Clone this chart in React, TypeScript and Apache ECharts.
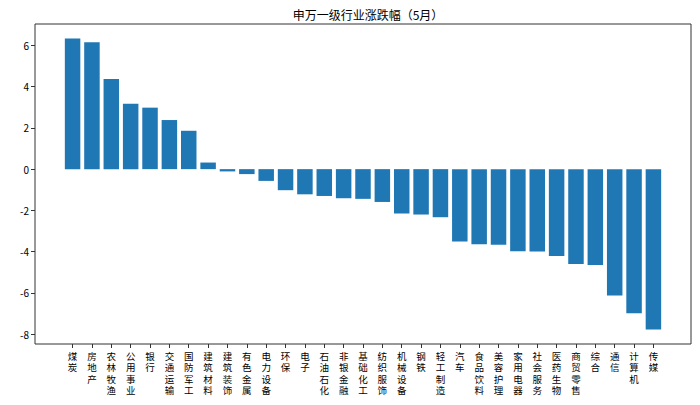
import React, { useEffect, useRef } from "react";
import * as echarts from "echarts";

const titleText = "申万一级行业涨跌幅（5月）";

const categories = [
  "煤炭", "房地产", "农林牧渔", "公用事业", "银行", "交通运输", "国防军工", "建筑材料",
  "建筑装饰", "有色金属", "电力设备", "环保", "电子", "石油石化", "非银金融", "基础化工",
  "纺织服饰", "机械设备", "钢铁", "轻工制造", "汽车", "食品饮料", "美容护理", "家用电器",
  "社会服务", "医药生物", "商贸零售", "综合", "通信", "计算机", "传媒",
];

const changes = [
  6.33, 6.15, 4.37, 3.17, 2.98, 2.38, 1.86, 0.32,
  -0.11, -0.24, -0.57, -1.02, -1.22, -1.3, -1.41, -1.44,
  -1.59, -2.15, -2.2, -2.33, -3.51, -3.64, -3.67, -3.98,
  -3.99, -4.21, -4.6, -4.65, -6.13, -6.98, -7.77,
];

const yTicks = [-8, -6, -4, -2, 0, 2, 4, 6];

const FONT = "'Noto Sans CJK SC', 'Noto Sans', sans-serif";

export default function App() {
  const ref = useRef<HTMLDivElement>(null);

  useEffect(() => {
    if (!ref.current) return;
    const chart = echarts.init(ref.current, null, { renderer: "svg" });
    const dataMax = Math.max(...changes);
    const dataMin = Math.min(...changes);
    const pad = (dataMax - dataMin) * 0.05;
    const yMin = dataMin - pad;
    const yMax = dataMax + pad;

    chart.setOption({
      animation: false,
      backgroundColor: "#ffffff",
      textStyle: { fontFamily: FONT },
      title: {
        text: titleText,
        left: 363,
        top: 3,
        textAlign: "center",
        textStyle: { fontSize: 12, fontWeight: "normal", color: "#000", fontFamily: FONT },
      },
      grid: [
        {
          left: 35,
          right: 9,
          top: 24,
          bottom: 61,
          show: true,
          borderColor: "#333",
          borderWidth: 1,
          backgroundColor: "transparent",
        },
        {
          left: 62.9,
          right: 36.9,
          top: 24,
          bottom: 61,
        },
      ],
      xAxis: [
        {
          gridIndex: 0,
          type: "value",
          show: false,
          min: 0,
          max: 1,
        },
        {
          gridIndex: 1,
          type: "category",
          position: "bottom",
          data: categories,
          boundaryGap: true,
          axisLine: { show: false, onZero: false },
          axisTick: {
            show: true,
            alignWithLabel: true,
            length: 4,
            lineStyle: { color: "#333", width: 1 },
          },
          axisLabel: {
            interval: 0,
            margin: 6,
            fontSize: 9.5,
            lineHeight: 11.5,
            color: "#000",
            fontFamily: FONT,
            verticalAlign: "top",
            formatter: (v: string) => v.split("").join("\n"),
          },
          splitLine: { show: false },
        },
      ],
      yAxis: [
        {
          gridIndex: 0,
          type: "value",
          min: yMin,
          max: yMax,
          axisLine: { show: false, onZero: false },
          splitLine: { show: false },
          axisTick: {
            show: true,
            length: 4,
            customValues: yTicks,
            lineStyle: { color: "#333", width: 1 },
          },
          axisLabel: {
            customValues: yTicks,
            margin: 6,
            fontSize: 10,
            color: "#000",
            fontFamily: FONT,
            formatter: (v: number) => String(Math.round(v)),
          },
        },
        {
          gridIndex: 1,
          type: "value",
          min: yMin,
          max: yMax,
          show: false,
          splitLine: { show: false },
        },
      ],
      series: [
        {
          type: "bar",
          xAxisIndex: 1,
          yAxisIndex: 1,
          data: changes,
          barCategoryGap: "20%",
          itemStyle: { color: "#1f77b4" },
        },
      ],
    });

    return () => {
      chart.dispose();
    };
  }, []);

  return (
    <div
      ref={ref}
      style={{ position: "fixed", left: 0, top: 0, width: 700, height: 405, background: "#fff" }}
    />
  );
}
